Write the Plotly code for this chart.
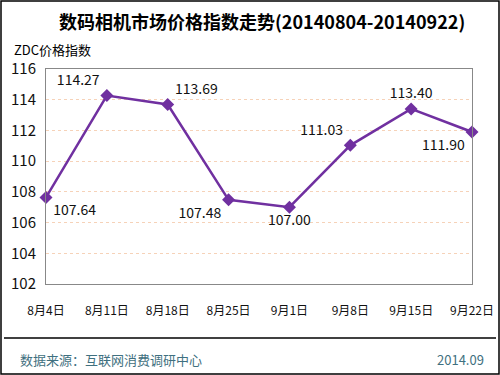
import plotly.graph_objects as go

categories = ["8月4日", "8月11日", "8月18日", "8月25日", "9月1日", "9月8日", "9月15日", "9月22日"]
values = [107.64, 114.27, 113.69, 107.48, 107.00, 111.03, 113.40, 111.90]
label_pos = ["bottom right", "top left", "top right", "bottom left", "bottom center", "top left", "top center", "bottom left"]
y_ticks = [102, 104, 106, 108, 110, 112, 114, 116]

FONT = "Noto Sans CJK SC"
L, R, T, B = 46, 472, 69, 284
W, H = 500, 375

def px(x):
    return (x - L) / (R - L)

def py(y):
    return (B - y) / (B - T)

fig = go.Figure()
fig.add_trace(go.Scatter(
    x=list(range(len(categories))), y=values,
    mode="lines+markers+text",
    line=dict(color="#7030A0", width=2.5),
    marker=dict(symbol="diamond", size=10, color="#7030A0"),
    text=[f"{v:.2f}" for v in values],
    textposition=label_pos,
    textfont=dict(family=FONT, size=14, color="#111111"),
    cliponaxis=False,
    hoverinfo="skip",
))

fig.update_layout(
    width=W, height=H, autosize=False,
    margin=dict(l=L, r=W - R, t=T, b=H - B, autoexpand=False),
    paper_bgcolor="white", plot_bgcolor="white",
    showlegend=False,
    xaxis=dict(
        tickmode="array", tickvals=list(range(len(categories))), ticktext=categories,
        range=[0, len(categories) - 1], showgrid=False, zeroline=False,
        showline=True, linecolor="#888888", linewidth=1, mirror=True,
        ticks="", ticklabelstandoff=16, automargin=False,
        tickfont=dict(family=FONT, size=12, color="#111111"),
    ),
    yaxis=dict(
        tickmode="array", tickvals=y_ticks, range=[102, 116],
        showgrid=True, gridcolor="#F6D2B8", griddash="dot", gridwidth=1,
        zeroline=False, showline=True, linecolor="#888888", linewidth=1, mirror=True,
        ticks="", ticklabelstandoff=6, automargin=False,
        tickfont=dict(family=FONT, size=15, color="#111111"),
    ),
    shapes=[
        dict(type="rect", xref="paper", yref="paper",
             x0=px(1), x1=px(499), y0=py(374), y1=py(1),
             line=dict(color="#000000", width=1.5)),
        dict(type="line", xref="paper", yref="paper",
             x0=px(4), x1=px(496), y0=py(338), y1=py(338),
             line=dict(color="#000000", width=1.5)),
    ],
    annotations=[
        dict(text="<b>数码相机市场价格指数走势(20140804-20140922)</b>", xref="paper", yref="paper",
             x=px(262), y=py(21), xanchor="center", yanchor="middle", showarrow=False,
             font=dict(family=FONT, size=18, color="#000000")),
        dict(text="ZDC价格指数", xref="paper", yref="paper",
             x=px(12), y=py(49), xanchor="left", yanchor="middle", showarrow=False,
             font=dict(family=FONT, size=13, color="#000000")),
        dict(text="数据来源：互联网消费调研中心", xref="paper", yref="paper",
             x=px(18), y=py(359), xanchor="left", yanchor="middle", showarrow=False,
             font=dict(family=FONT, size=13, color="#3F7080")),
        dict(text="2014.09", xref="paper", yref="paper",
             x=px(486), y=py(359), xanchor="right", yanchor="middle", showarrow=False,
             font=dict(family=FONT, size=13, color="#3F7080")),
    ],
)

fig.write_html(
    "out.html",
    config={"displayModeBar": False, "responsive": False},
    post_script="document.body.style.margin='0';document.body.style.overflow='hidden';document.documentElement.style.overflow='hidden';",
)
